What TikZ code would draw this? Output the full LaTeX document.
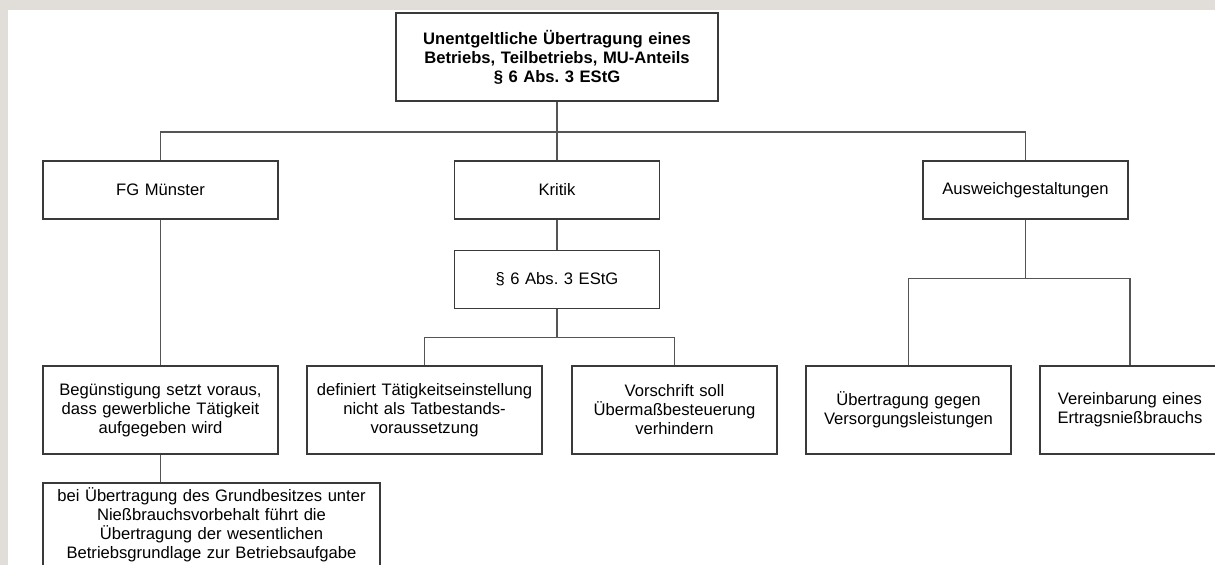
\documentclass[tikz,border=0pt]{standalone}
\usepackage{fontspec}
\setmainfont{Liberation Sans}
\usepackage{tikz}
\usetikzlibrary{positioning, calc}
\definecolor{pagegrey}{HTML}{E1DDD9}
\definecolor{boxline}{HTML}{3A3A3A}
\definecolor{linkgrey}{HTML}{555555}
\newcommand{\orgfont}{\fontsize{9.45}{10.8}\selectfont\frenchspacing}
\tikzset{
  font=\orgfont,
  box/.style={
    draw=boxline, fill=white, line width=0.6pt,
    align=center, text width=#1, inner xsep=0pt, inner ysep=2pt,
    minimum height=1.16cm
  },
  box/.default=4.10cm,
  tall/.style={minimum height=1.76cm},
  link/.style={draw=linkgrey, line width=0.6pt}
}

\begin{document}
\begin{tikzpicture}
  \useasboundingbox (0,0) rectangle (24.3,-11.3);
  \clip (0,0) rectangle (24.3,-11.3);
  \fill[pagegrey] (0,0) rectangle (24.3,-11.3);
  \fill[white] (0.16,-0.2) rectangle (24.3,-11.3);

  % root
  \node[box=6.44cm, tall, font=\orgfont\bfseries] (root) at (11.14,-1.14)
    {Unentgeltliche Übertragung eines\\Betriebs, Teilbetriebs, MU-Anteils\\§ 6 Abs. 3 EStG};

  % first level
  \node[box=4.70cm] (fg) at (3.21,-3.80) {FG Münster};
  \node[box] (kritik) at (11.14,-3.80) {Kritik};
  \node[box] (ausw) at (20.51,-3.80) {Ausweichgestaltungen};
  \node[box, below=0.60cm of kritik] (para) {§ 6 Abs. 3 EStG};

  % second level
  \node[box=4.70cm, tall] (beg) at (3.21,-8.20)
    {Begünstigung setzt voraus,\\dass gewerbliche Tätigkeit\\aufgegeben wird};
  \node[box=4.70cm, tall] (def) at (8.49,-8.20)
    {definiert Tätigkeitseinstellung\\nicht als Tatbestands-\\voraussetzung};
  \node[box, tall] (vor) at (13.49,-8.20)
    {Vorschrift soll\\Übermaßbesteuerung\\verhindern};
  \node[box, tall] (ueb) at (18.17,-8.20)
    {Übertragung gegen\\Versorgungsleistungen};
  \node[box=3.60cm, tall] (ver) at (22.60,-8.20)
    {Vereinbarung eines\\Ertragsnießbrauchs};
  \node[box=6.74cm, minimum height=1.66cm] (bei) at (4.23,-10.49)
    {bei Übertragung des Grundbesitzes unter\\Nießbrauchsvorbehalt führt die\\Übertragung der wesentlichen\\Betriebsgrundlage zur Betriebsaufgabe};

  % connectors
  \draw[link] (root.south) -- ++(0,-0.61) -| (fg.north);
  \draw[link] (root.south) -- ++(0,-0.61) -| (ausw.north);
  \draw[link] (root.south) -- (kritik.north);
  \draw[link] (kritik.south) -- (para.north);
  \draw[link] (para.south) -- ++(0,-0.58) -| (def.north);
  \draw[link] (para.south) -- ++(0,-0.58) -| (vor.north);
  \draw[link] (ausw.south) -- ++(0,-1.18) -| (ueb.north);
  \draw[link] (ausw.south) -- ++(0,-1.18) -| (ver.north);
  \draw[link] (fg.south) -- (beg.north);
  \draw[link] (beg.south) -- (beg.south |- bei.north);
\end{tikzpicture}
\end{document}
